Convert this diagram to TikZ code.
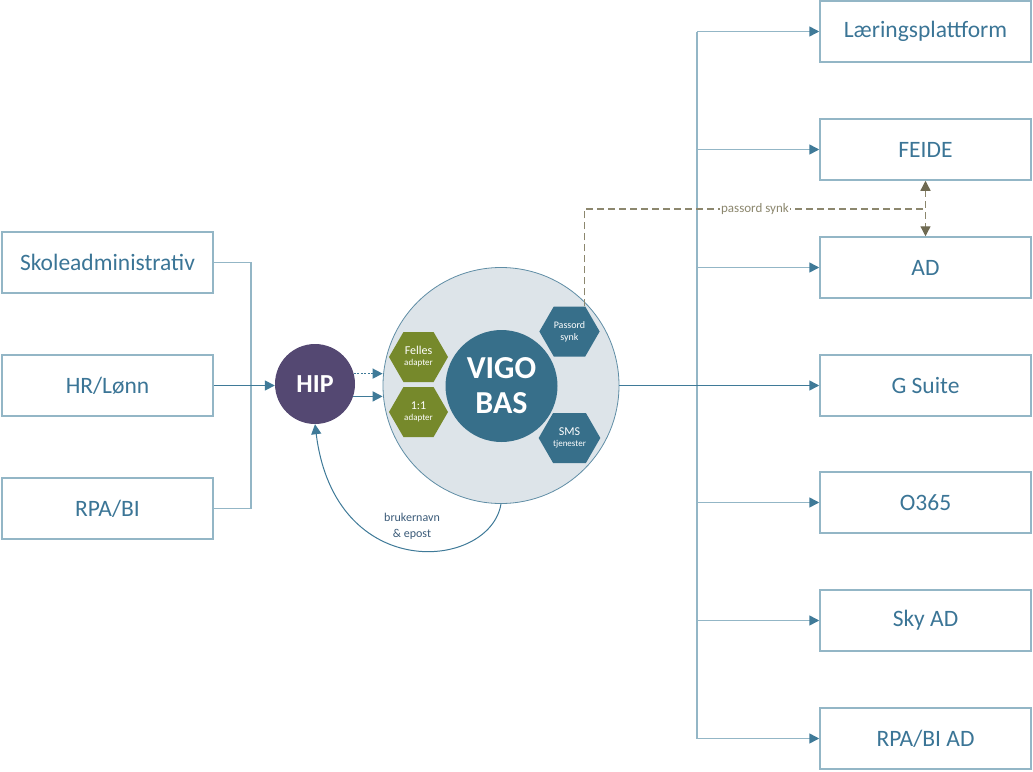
\documentclass[tikz,border=0pt]{standalone}
\usepackage{fontspec}
\setmainfont{Carlito}
\usetikzlibrary{shapes.symbols,arrows.meta,calc}
\definecolor{boxline}{HTML}{93B6C6}
\definecolor{txt}{HTML}{3B7596}
\definecolor{conn}{HTML}{3F7A98}
\definecolor{hipc}{HTML}{544872}
\definecolor{vigoc}{HTML}{376F8A}
\definecolor{outerc}{HTML}{DDE4E9}
\definecolor{outerline}{HTML}{5F8DA5}
\definecolor{olivec}{HTML}{76892B}
\definecolor{dashc}{HTML}{8C876E}
\definecolor{dashtip}{HTML}{6F6A52}
\definecolor{lblc}{HTML}{3A5A78}
\begin{document}
\begin{tikzpicture}[x=1pt,y=-1pt,
 box/.style={draw=boxline, line width=1.5pt, minimum width=211pt, minimum height=61pt, text=txt, font=\fontsize{23.5}{26}\selectfont, inner sep=0pt},
 hex/.style={shape=signal, signal to=west and east, signal pointer angle=120, minimum width=59pt, minimum height=50pt, inner sep=0pt, text=white, align=center},
 link/.style={draw=boxline, line width=1.5pt},
 darklink/.style={draw=conn, line width=1.5pt},
 arr/.style={-{Triangle[length=10pt,width=10pt,color=conn]}},
 pwline/.style={draw=dashc, line width=1.3pt, dash pattern=on 7pt off 4pt},
]
\useasboundingbox (0,0) rectangle (1033,771);
% left boxes
\node[box] (sk) at (107.5,262.5) {Skoleadministrativ};
\node[box] (hr) at (107.5,385.5) {HR/Lønn};
\node[box] (rpa) at (107.5,508.5) {RPA/BI};
% right boxes
\node[box] (lp) at (925.5,31.5) {Læringsplattform};
\node[box] (feide) at (925.5,149.5) {FEIDE};
\node[box] (ad) at (925.5,267.5) {AD};
\node[box] (gs) at (925.5,385.5) {G Suite};
\node[box] (o365) at (925.5,502.5) {O365};
\node[box] (sky) at (925.5,620.5) {Sky AD};
\node[box] (rpaad) at (925.5,738.5) {RPA/BI AD};
% HIP
\node[circle, fill=hipc, minimum size=80pt, inner sep=0pt, text=white, font=\bfseries\fontsize{26}{30}\selectfont] (hip) at (315,384) {HIP};
% VIGO BAS
\node[circle, draw=outerline, fill=outerc, minimum size=236pt, line width=0.8pt, inner sep=0pt] (bas) at (501,385.5) {};
\node[circle, fill=vigoc, minimum size=112pt, inner sep=0pt, text=white, font=\bfseries\fontsize{32}{35}\selectfont, align=center] (vigo) at (501.5,386) {VIGO\\BAS};
\node[hex, fill=olivec] (felles) at (418.5,357) {\fontsize{12}{12}\selectfont Felles\\[-1pt]\fontsize{9}{10}\selectfont adapter};
\node[hex, fill=olivec] (one) at (418.5,412) {\fontsize{12}{12}\selectfont 1:1\\[-1pt]\fontsize{9}{10}\selectfont adapter};
\node[hex, fill=vigoc] (ps) at (569.5,331.5) {\fontsize{10}{12}\selectfont Passord\\\fontsize{10}{11}\selectfont synk};
\node[hex, fill=vigoc] (sms) at (569.5,438) {\fontsize{12}{12}\selectfont SMS\\[-1pt]\fontsize{9}{10}\selectfont tjenester};
% left connectors
\draw[link] (sk.east) -- ++(37,0) |- (rpa.east);
\draw[darklink, arr] (hr.east) -- (hr.east -| hip.west);
% HIP to VIGO
\draw[darklink, arr, dash pattern=on 2pt off 1.5pt] (hip.15) -- (hip.15 -| bas.west);
\draw[darklink, arr] (hip.-18) -- (hip.-18 -| bas.west);
% trunk on right
\coordinate (trunk) at (697,385.5);
\draw[link] (trunk |- lp) -- (trunk |- rpaad);
\draw[darklink, arr] (bas.east) -- (gs.west);
\foreach \n in {lp,feide,ad,o365,sky,rpaad}{
  \draw[link, arr] (trunk |- \n) -- (\n.west);
}
% password sync
\coordinate (dj) at (584.5,209);
\draw[pwline] ($(ps.north)+(15,0)$) -- (dj) -- (dj -| feide.south)
  node[pos=0.5, fill=white, inner sep=1pt, text=dashc, font=\fontsize{13}{13}\selectfont] (pwl) {passord synk};
\draw[pwline, {Triangle[length=10pt,width=10pt,color=dashtip]}-{Triangle[length=10pt,width=10pt,color=dashtip]}] (feide.south) -- (ad.north);
% feedback curve
\draw[draw=conn, line width=1pt, arr] (bas.south) .. controls (490,570) and (335,585) .. (hip.south);
\node[text=lblc, font=\fontsize{12}{16}\selectfont, align=center] (lbl) at (412,526) {brukernavn\\\& epost};
\end{tikzpicture}
\end{document}
